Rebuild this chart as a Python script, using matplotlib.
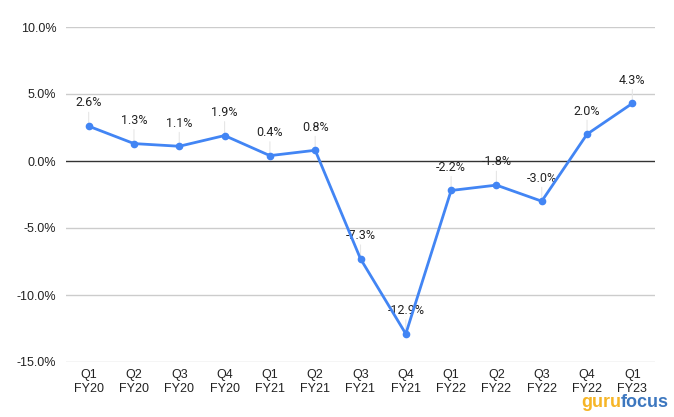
import matplotlib
matplotlib.use("Agg")
import matplotlib.pyplot as plt
from matplotlib.ticker import FuncFormatter

# data
quarters = ["Q1\nFY20", "Q2\nFY20", "Q3\nFY20", "Q4\nFY20", "Q1\nFY21", "Q2\nFY21", "Q3\nFY21",
            "Q4\nFY21", "Q1\nFY22", "Q2\nFY22", "Q3\nFY22", "Q4\nFY22", "Q1\nFY23"]
growth = [2.6, 1.3, 1.1, 1.9, 0.4, 0.8, -7.3, -12.9, -2.2, -1.8, -3.0, 2.0, 4.3]
yticks = [-15, -10, -5, 0, 5, 10]

plt.rcParams['font.family'] = ['Liberation Sans', 'DejaVu Sans']

fig = plt.figure(figsize=(6.74, 4.17), dpi=100)
ax = fig.add_axes([66/674, 55/417, 589/674, 335/417])

x = list(range(len(growth)))
blue = "#4285F4"

# grid
for t in yticks:
    ax.axhline(t, color="#333333" if t == 0 else "#cccccc", lw=1, zorder=1)

# leader lines and labels
for xi, v in zip(x, growth):
    ax.annotate(f"{v:.1f}%", xy=(xi, v), xytext=(0, 12), textcoords="offset points",
                ha="center", va="bottom", fontsize=9, color="#222222", family=["Roboto", "DejaVu Sans"],
                arrowprops=dict(arrowstyle="-", color="#e6e6e6", lw=0.8, shrinkA=0, shrinkB=0))

ax.plot(x, growth, color=blue, lw=2, marker="o", ms=4.5, zorder=3)

ax.set_xlim(-0.5, len(growth) - 0.5)
ax.set_ylim(-15, 10)
ax.set_yticks(yticks)
ax.yaxis.set_major_formatter(FuncFormatter(lambda v, p: f"{v:.1f}%"))
ax.set_xticks(x)
ax.set_xticklabels(quarters)
ax.tick_params(length=0, labelsize=9, colors="#222222")
ax.tick_params(axis="y", pad=7)
ax.tick_params(axis="x", pad=5)
for s in ax.spines.values():
    s.set_visible(False)

# watermark
fig.text(0.862, 0.025, "guru", color="#f5a800", fontsize=13, fontweight="bold", alpha=0.85, ha="left")
fig.text(0.921, 0.025, "focus", color="#1a5fb4", fontsize=13, fontweight="bold", alpha=0.85, ha="left")

fig.savefig("out.png", dpi=100)
